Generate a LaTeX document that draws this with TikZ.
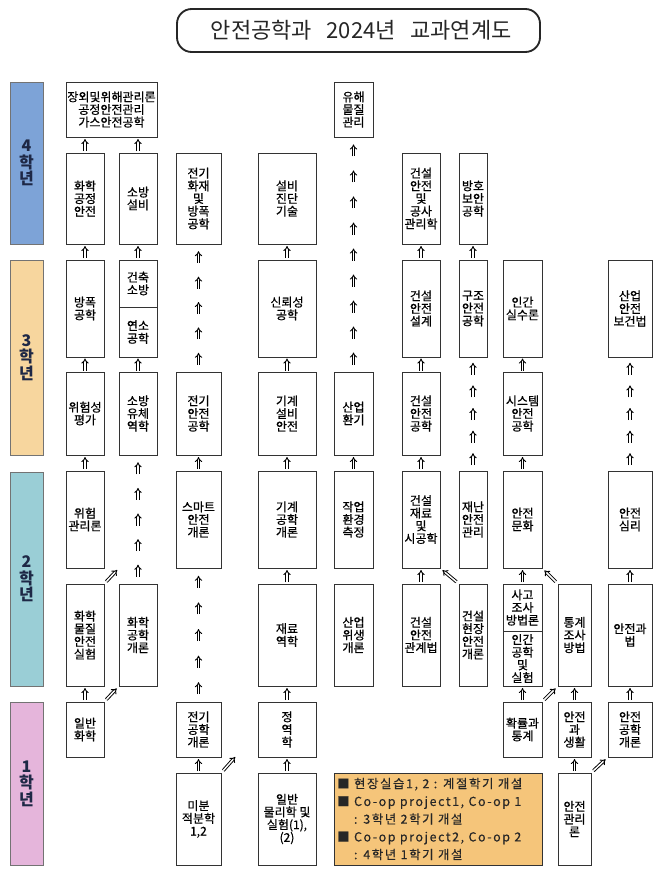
\documentclass[tikz,border=0pt]{standalone}
\usepackage{fontspec}
\setmainfont{Noto Sans CJK KR}
\newfontfamily\boxfont[FakeBold=0.6]{Noto Sans CJK KR}
\newfontfamily\notefont[LetterSpace=13, FakeBold=0.5]{Noto Sans CJK KR}
\usetikzlibrary{calc,arrows.meta}

\definecolor{yearfour}{RGB}{125,163,215}
\definecolor{yearthree}{RGB}{247,214,158}
\definecolor{yeartwo}{RGB}{154,206,214}
\definecolor{yearone}{RGB}{229,181,219}
\definecolor{notefill}{RGB}{245,197,122}
\definecolor{yeartext}{RGB}{30,40,70}

% box from corner (#3,#4) to corner (#5,#6), in pixels
\newcommand\boxat[7][course]{%
  \node[#1, minimum width={(#5-#3)*0.75pt}, minimum height={(#6-#4)*0.75pt}]
    (#2) at ({(#3+#5)/2},{(#4+#6)/2}) {#7};}

% n double arrows from the top of #1 up to the bottom of #2
\newcommand\upchain[3]{%
  \foreach \i [evaluate=\i as \f using (\i-0.5)/#3] in {1,...,#3}
    \draw[uparr] ($(#1.north)!\f!(#1.north |- #2.south)$) ++(0,6) -- ++(0,-12);}

\begin{document}
\begin{tikzpicture}[x=0.75pt, y=-0.75pt,
  course/.style={draw=black!80, line width=0.7pt, fill=white, inner sep=0pt,
    align=center, font=\boxfont\fontsize{9}{9.5}\selectfont},
  yearbar/.style={course, draw=black!55, text=yeartext,
    font=\fontsize{12}{12.5}\selectfont\bfseries},
  titlebox/.style={draw=black!85, line width=1.4pt, rounded corners=11pt,
    inner sep=0pt, font=\fontsize{16.5}{19}\selectfont, text=black!85},
  uparr/.style={double, double distance=1.1pt, line width=0.7pt, -{Implies}},
  diagarr/.style={uparr, shorten <=2pt, shorten >=2pt}]
\useasboundingbox (0,0) rectangle (671,875);
\fill[white] (0,0) rectangle (671,875);

\node[titlebox, minimum width={(540-177)*0.75pt}, minimum height={(52-9)*0.75pt}]
  (title) at (358.5,30.5) {\hspace{4pt}안전공학과\hspace{11pt}2024년\hspace{11pt}교과연계도};

% 학년
\boxat[yearbar, fill=yearfour]{yfour}{10}{82}{43}{244}{4\\학\\년}
\boxat[yearbar, fill=yearthree]{ythree}{10}{260}{43}{455}{3\\학\\년}
\boxat[yearbar, fill=yeartwo]{ytwo}{10}{472}{43}{686}{2\\학\\년}
\boxat[yearbar, fill=yearone]{yone}{10}{702}{43}{865}{1\\학\\년}

% 4학년
\boxat{topbox}{66}{82}{157}{137}{장외및위해관리론\\공정안전관리\\가스안전공학}
\boxat{hazmat}{334}{82}{373}{137}{유해\\물질\\관리}
\boxat{chemproc}{66}{153}{104}{244}{화학\\공정\\안전}
\boxat{firefac}{119}{153}{157}{244}{소방\\설비}
\boxat{elecfire}{176}{153}{221}{244}{전기\\화재\\및\\방폭\\공학}
\boxat{facdiag}{258}{153}{316}{244}{설비\\진단\\기술}
\boxat{conmgmt}{402}{153}{440}{244}{건설\\안전\\및\\공사\\관리학}
\boxat{protsec}{459}{153}{487}{244}{방호\\보안\\공학}

% 3학년
\boxat{explo}{66}{260}{104}{357}{방폭\\공학}
\boxat{archfire}{119}{260}{157}{307}{건축\\소방}
\boxat{combust}{119}{307}{157}{357}{연소\\공학}
\boxat{reliab}{258}{260}{316}{357}{신뢰성\\공학}
\boxat{condesign}{402}{260}{440}{357}{건설\\안전\\설계}
\boxat{structsafe}{459}{260}{487}{357}{구조\\안전\\공학}
\boxat{humerr}{503}{260}{542}{357}{인간\\실수론}
\boxat{indlaw}{608}{260}{652}{357}{산업\\안전\\보건법}
\boxat{riskeval}{66}{372}{104}{455}{위험성\\평가}
\boxat{firefluid}{119}{372}{157}{455}{소방\\유체\\역학}
\boxat{elecsafe}{176}{372}{221}{455}{전기\\안전\\공학}
\boxat{mechsafe}{258}{372}{316}{455}{기계\\설비\\안전}
\boxat{indvent}{334}{372}{373}{455}{산업\\환기}
\boxat{consafe}{402}{372}{440}{455}{건설\\안전\\공학}
\boxat{syssafe}{503}{372}{542}{455}{시스템\\안전\\공학}

% 2학년
\boxat{riskmgmt}{66}{471}{104}{568}{위험\\관리론}
\boxat{smart}{176}{471}{221}{568}{스마트\\안전\\개론}
\boxat{mecheng}{258}{471}{316}{568}{기계\\공학\\개론}
\boxat{workenv}{334}{471}{373}{568}{작업\\환경\\측정}
\boxat{conmat}{402}{471}{440}{568}{건설\\재료\\및\\시공학}
\boxat{disaster}{459}{471}{487}{568}{재난\\안전\\관리}
\boxat{culture}{503}{471}{542}{568}{안전\\문화}
\boxat{psych}{608}{471}{652}{568}{안전\\심리}
\boxat{chemlab}{66}{584}{104}{686}{화학\\물질\\안전\\실험}
\boxat{chemeng}{119}{584}{157}{686}{화학\\공학\\개론}
\boxat{matmech}{258}{584}{316}{686}{재료\\역학}
\boxat{indhyg}{334}{584}{373}{686}{산업\\위생\\개론}
\boxat{conlaw}{402}{584}{440}{686}{건설\\안전\\관계법}
\boxat{sitesafe}{459}{584}{487}{686}{건설\\현장\\안전\\개론}
\boxat{accinv}{503}{584}{542}{631}{사고\\조사\\방법론}
\boxat{ergo}{503}{631}{542}{686}{인간\\공학\\및\\실험}
\boxat{statmeth}{558}{584}{591}{686}{통계\\조사\\방법}
\boxat{safelaw}{608}{584}{652}{686}{안전과\\법}

% 1학년
\boxat{genchem}{66}{702}{104}{757}{일반\\화학}
\boxat{eleceng}{176}{702}{221}{757}{전기\\공학\\개론}
\boxat{statics}{258}{702}{316}{757}{정\\역\\학}
\boxat{prob}{503}{702}{542}{757}{확률과\\통계}
\boxat{safelife}{558}{702}{591}{757}{안전\\과\\생활}
\boxat{safeeng}{608}{702}{652}{757}{안전\\공학\\개론}
\boxat{calcul}{176}{773}{221}{865}{미분\\적분학\\1,2}
\boxat{physics}{258}{773}{316}{865}{일반\\물리학 및\\실험(1),\\(2)}
\boxat{safemgmt}{558}{773}{591}{865}{안전\\관리\\론}

\boxat[course, fill=notefill]{note}{334}{773}{542}{865}{}
\node[anchor=west, inner sep=0pt, align=left, text=black!85,
  font=\notefont\fontsize{9.3}{13.3}\selectfont] (notetext) at (337,819)
  {■ 현장실습1, 2 : 계절학기 개설\\
   ■ Co-op project1, Co-op 1\\
   \phantom{■} : 3학년 2학기 개설\\
   ■ Co-op project2, Co-op 2\\
   \phantom{■} : 4학년 1학기 개설};

% 연계
\upchain{chemproc}{topbox}{1}
\upchain{firefac}{topbox}{1}
\upchain{indvent}{hazmat}{9}
\upchain{explo}{chemproc}{1}
\upchain{archfire}{firefac}{1}
\upchain{elecsafe}{elecfire}{5}
\upchain{reliab}{facdiag}{1}
\upchain{condesign}{conmgmt}{1}
\upchain{structsafe}{protsec}{1}
\upchain{riskeval}{explo}{1}
\upchain{firefluid}{combust}{1}
\upchain{mechsafe}{reliab}{1}
\upchain{consafe}{condesign}{1}
\upchain{disaster}{structsafe}{5}
\upchain{syssafe}{humerr}{1}
\upchain{psych}{indlaw}{5}
\upchain{riskmgmt}{riskeval}{1}
\upchain{chemeng}{firefluid}{5}
\upchain{smart}{elecsafe}{1}
\upchain{mecheng}{mechsafe}{1}
\upchain{workenv}{indvent}{1}
\upchain{conmat}{consafe}{1}
\upchain{culture}{syssafe}{1}
\upchain{eleceng}{smart}{5}
\upchain{matmech}{mecheng}{1}
\upchain{conlaw}{conmat}{1}
\upchain{accinv}{culture}{1}
\upchain{safelaw}{psych}{1}
\upchain{genchem}{chemlab}{1}
\upchain{statics}{matmech}{1}
\upchain{prob}{ergo}{1}
\upchain{safelife}{statmeth}{1}
\upchain{safeeng}{safelaw}{1}
\upchain{calcul}{eleceng}{1}
\upchain{physics}{statics}{1}
\upchain{safemgmt}{safelife}{1}

\coordinate (firegap) at (119,568);
\coordinate (calcgap) at (237,755);
\draw[diagarr] (chemlab.north east) -- (firegap);
\draw[diagarr] (genchem.north east) -- (chemeng.south west);
\draw[diagarr] (calcul.north east) -- (calcgap);
\draw[diagarr] (sitesafe.north west) -- (conmat.south east);
\draw[diagarr] (statmeth.north west) -- (culture.south east);
\draw[diagarr] (prob.north east) -- (statmeth.south west);
\draw[diagarr] (safemgmt.north east) -- (safeeng.south west);
\end{tikzpicture}
\end{document}
